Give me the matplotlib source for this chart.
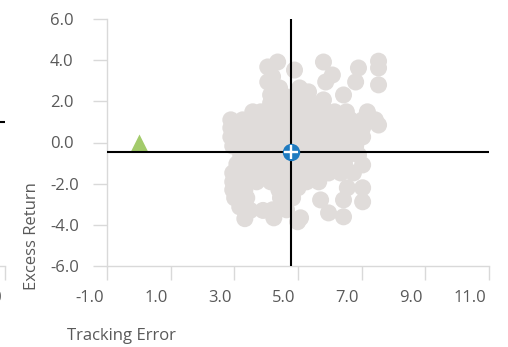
import matplotlib
matplotlib.use("Agg")
import matplotlib.pyplot as plt
from matplotlib.transforms import ScaledTranslation

plt.rcParams['font.family'] = ['Open Sans', 'DejaVu Sans']

# Peer universe: tracking error (x) and excess return (y), in %
peer_te = [
    4.36, 5.80, 7.53,
    4.05, 6.90, 7.53,
    4.89,
    4.20, 6.08,
    4.05, 5.87, 6.81, 7.53,
    4.42, 5.05,
    5.33,
    4.14, 4.52, 4.92, 6.43,
    5.80,
    4.14, 4.61, 5.02, 5.39, 5.77,
    3.58, 3.83, 4.14, 4.55, 4.96, 5.39, 5.77, 6.15, 6.52, 7.18,
    2.89, 3.26, 3.64, 4.02, 4.39, 4.77, 5.14, 5.52, 5.90, 6.27, 6.65, 7.03, 7.43,
    2.89, 3.26, 3.64, 4.02, 4.39, 4.77, 5.14, 5.52, 5.90, 6.27, 6.65, 7.03, 7.53,
    2.89, 3.26, 3.64, 4.02, 4.39, 4.77, 5.14, 5.52, 5.90, 6.27, 6.65, 7.03,
    2.95, 3.33, 3.70, 4.08, 4.45, 4.83, 5.21, 5.58, 5.96, 6.34, 6.81,
    3.20, 3.58, 3.95, 4.33, 4.71, 5.08, 5.46, 5.83, 6.21, 6.58, 6.90,
    3.08, 3.45, 3.83, 4.20, 4.58, 4.96, 5.33, 5.71, 6.08, 6.46, 7.03,
    2.95, 3.33, 3.70, 4.08, 4.45, 4.83, 5.21, 5.58, 5.96, 6.34, 6.74,
    2.95, 3.33, 3.70, 4.14, 4.52, 4.89, 5.27, 5.65,
    6.55, 7.03, 5.00,
    2.95, 3.33, 4.40, 4.77,
    3.01, 3.39, 4.45, 4.83, 5.71, 6.43, 7.03,
    3.17, 3.50, 3.90, 4.20, 4.64, 5.96,
    3.33, 4.24, 5.08, 4.99, 6.43,
]
peer_er = [
    3.91, 3.91, 3.95,
    3.67, 3.62, 3.62,
    3.52,
    3.20, 3.28,
    2.94, 2.94, 2.94, 2.80,
    2.65, 2.65,
    2.46,
    2.31, 2.31, 2.31, 2.31,
    2.07,
    1.92, 1.92, 1.92, 1.92, 1.92,
    1.49, 1.49, 1.49, 1.49, 1.49, 1.49, 1.49, 1.49, 1.49, 1.49,
    1.10, 1.10, 1.10, 1.10, 1.10, 1.10, 1.10, 1.10, 1.10, 1.10, 1.10, 1.10, 1.10,
    0.71, 0.71, 0.71, 0.71, 0.71, 0.71, 0.71, 0.71, 0.71, 0.71, 0.71, 0.71, 0.85,
    0.27, 0.27, 0.27, 0.27, 0.27, 0.27, 0.27, 0.27, 0.27, 0.27, 0.27, 0.27,
    -0.17, -0.17, -0.17, -0.17, -0.17, -0.17, -0.17, -0.17, -0.17, -0.17, -0.17,
    -0.60, -0.60, -0.60, -0.60, -0.60, -0.60, -0.60, -0.60, -0.60, -0.60, -0.60,
    -1.04, -1.04, -1.04, -1.04, -1.04, -1.04, -1.04, -1.04, -1.04, -1.04, -1.09,
    -1.48, -1.48, -1.48, -1.48, -1.48, -1.48, -1.48, -1.48, -1.48, -1.48, -1.48,
    -1.91, -1.91, -1.91, -1.91, -1.91, -1.91, -1.91, -1.91,
    -2.20, -2.20, -2.20,
    -2.30, -2.30, -2.30, -2.30,
    -2.69, -2.69, -2.69, -2.69, -2.79, -2.79, -2.88,
    -3.13, -3.30, -3.30, -3.27, -3.27, -3.42,
    -3.70, -3.66, -3.66, -3.85, -3.61,
]

# Highlighted fund and benchmark
fund_te, fund_er = 4.79, -0.45
bench_te, bench_er = 0.0, 0.0

# Crosshair level of the neighbouring panel
neighbour_er = 1.0

x_ticks = [-1.0, 1.0, 3.0, 5.0, 7.0, 9.0, 11.0]
y_ticks = [-6.0, -4.0, -2.0, 0.0, 2.0, 4.0, 6.0]
x_labels = [f"{v:.1f}" for v in x_ticks]
y_labels = [f"{v:.1f}" for v in y_ticks]

AXIS_GREY = '#d9d9d9'
TEXT_GREY = '#595959'

fig = plt.figure(figsize=(5.08, 3.47), dpi=100)
W, H = 508, 347
ax_w, ax_h, ax_b = 382 / W, 247 / H, 81 / H


def style_axes(a, xlabels, ylabels):
    a.set_xlim(x_ticks[0], x_ticks[-1])
    a.set_ylim(y_ticks[0], y_ticks[-1])
    for s in ('top', 'right'):
        a.spines[s].set_visible(False)
    for s in ('left', 'bottom'):
        a.spines[s].set_color(AXIS_GREY)
        a.spines[s].set_linewidth(1.0)
    a.set_xticks(x_ticks)
    a.set_xticklabels(xlabels)
    a.set_yticks(y_ticks)
    a.set_yticklabels(ylabels)
    a.tick_params(axis='both', colors=AXIS_GREY, labelcolor=TEXT_GREY,
                  length=10, width=1.0, labelsize=12)
    a.tick_params(axis='x', pad=7)
    a.tick_params(axis='y', pad=31)
    shift = ScaledTranslation(-2 / 72, 0, fig.dpi_scale_trans)
    for lbl in a.get_xticklabels():
        lbl.set_ha('right')
        lbl.set_transform(lbl.get_transform() + shift)
    for lbl in a.get_yticklabels():
        lbl.set_ha('left')
    a.set_facecolor('none')


# Edge of the neighbouring panel on the left: only its last x label reaches in
nb = fig.add_axes([(5 - 382) / W, ax_b, ax_w, ax_h])
style_axes(nb, [''] * (len(x_ticks) - 1) + [x_labels[-1]], [''] * len(y_ticks))
nb.axhline(neighbour_er, color='black', lw=1.5)

# Main panel
ax = fig.add_axes([107 / W, ax_b, ax_w, ax_h])
style_axes(ax, x_labels, y_labels)

ax.scatter(peer_te, peer_er, s=150, color='#e0dcda', edgecolors='none', zorder=2)
ax.plot(bench_te, bench_er, marker='^', ms=13, color='#a3cb6b', mec='none',
        linestyle='none', zorder=2.5)
ax.axvline(fund_te, color='black', lw=1.5, zorder=3)
ax.axhline(fund_er, color='black', lw=1.5, zorder=3)
ax.plot(fund_te, fund_er, marker='o', ms=12.5, color='#1f7bc0', mec='none',
        linestyle='none', zorder=4)
ax.plot(fund_te, fund_er, marker='+', ms=10, mew=1.7, color='white',
        linestyle='none', zorder=5)

fig.text(32 / W, 1 - 236 / H, 'Excess Return', rotation=90, ha='center',
         va='center', fontsize=12, color=TEXT_GREY)
fig.text(121 / W, 1 - 336 / H, 'Tracking Error', ha='center', va='center',
         fontsize=12, color=TEXT_GREY)

fig.savefig('out.png', dpi=100)
